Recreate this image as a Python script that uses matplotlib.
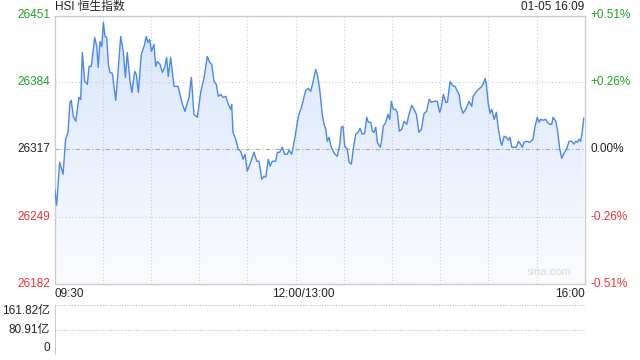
import numpy as np
import matplotlib
matplotlib.use("Agg")
import matplotlib.pyplot as plt
from matplotlib.colors import LinearSegmentedColormap

plt.rcParams['font.family'] = ['Liberation Sans', 'Noto Sans CJK SC', 'DejaVu Sans']

# minutos de negociacion desde las 09:30 (0..330) y valor del indice
minutos = [0, 1.2, 3.1, 5.2, 6.8, 8.3, 9.5, 10.3, 11.6, 13.1, 15.1, 16.2, 17.2, 18.7, 20.3,
           21.4, 22.8, 24.9, 26.2, 27.1, 28.2, 29.3, 30.3, 31.3, 32.4, 33.4, 34.4, 35.9,
           38.0, 39.4, 41.1, 42.7, 44.0, 45.2, 46.9, 48.1, 49.8, 50.8, 52.1, 53.9, 56.0,
           57.0, 58.1, 59.2, 60.2, 61.8, 62.9, 63.9, 65.6, 67.0, 68.5, 69.7, 70.7, 72.2,
           74.3, 76.8, 79.5, 81.1, 83.6, 85.1, 86.7, 88.8, 90.9, 93.0, 95.0, 96.5, 97.8,
           99.2, 100.6, 101.9, 103.4, 104.8, 106.5, 108.1, 109.6, 110.2, 111.0, 112.7,
           114.3, 115.8, 117.3, 118.5, 119.9, 122.0, 124.1, 125.8, 127.2, 128.9, 130.3,
           131.4, 133.0, 134.1, 135.5, 137.6, 138.6, 140.1, 141.7, 143.2, 144.8, 145.9,
           147.6, 149.6, 151.7, 153.8, 156.3, 157.9, 159.4, 160.8, 162.5, 163.5, 165.0,
           166.6, 167.7, 168.8, 169.7, 170.8, 172.2, 174.4, 176.0, 177.5, 178.5, 179.5,
           180.6, 182.2, 183.3, 184.7, 185.9, 187.4, 188.9, 190.1, 191.5, 193.0, 194.3,
           195.3, 196.8, 197.8, 198.8, 199.9, 200.9, 202.6, 203.4, 204.6, 206.1, 207.5,
           208.6, 209.6, 210.8, 212.3, 213.3, 214.6, 216.1, 217.5, 219.2, 220.6, 222.3,
           223.7, 225.2, 226.8, 228.3, 230.0, 231.6, 233.1, 234.5, 236.2, 238.2, 239.7,
           240.7, 242.0, 243.5, 244.5, 246.2, 247.6, 249.3, 250.7, 251.8, 252.8, 254.2,
           255.9, 258.0, 259.7, 260.5, 262.2, 263.8, 265.3, 266.7, 268.0, 268.8, 270.0,
           271.1, 272.1, 273.6, 275.0, 276.3, 277.7, 278.4, 279.8, 281.2, 282.5, 283.5,
           284.6, 286.0, 287.4, 288.7, 289.7, 291.2, 292.2, 293.9, 295.8, 297.8, 299.1,
           300.5, 301.6, 302.6, 304.1, 305.7, 306.7, 308.2, 309.5, 310.3, 312.0, 313.0,
           314.5, 315.7, 317.1, 318.6, 320.3, 321.9, 323.4, 324.4, 325.4, 326.5, 327.5,
           328.5, 329.4]
valores = [26277, 26261, 26304, 26292, 26327, 26334, 26364, 26366, 26350, 26345, 26369,
           26367, 26414, 26385, 26382, 26400, 26400, 26429, 26420, 26399, 26425, 26420,
           26444, 26430, 26429, 26402, 26394, 26393, 26366, 26394, 26430, 26415, 26389,
           26414, 26385, 26374, 26395, 26392, 26374, 26412, 26422, 26430, 26424, 26427,
           26415, 26422, 26400, 26405, 26402, 26394, 26399, 26409, 26390, 26409, 26380,
           26380, 26362, 26355, 26369, 26389, 26352, 26349, 26374, 26389, 26410, 26404,
           26402, 26385, 26382, 26370, 26372, 26369, 26370, 26362, 26357, 26362, 26334,
           26327, 26317, 26315, 26307, 26312, 26295, 26304, 26314, 26305, 26305, 26287,
           26290, 26289, 26307, 26300, 26305, 26305, 26314, 26314, 26319, 26312, 26312,
           26316, 26312, 26329, 26350, 26360, 26376, 26378, 26375, 26384, 26397, 26392,
           26377, 26352, 26342, 26337, 26325, 26329, 26319, 26312, 26310, 26322, 26339,
           26340, 26320, 26317, 26304, 26302, 26317, 26332, 26334, 26338, 26332, 26333,
           26349, 26344, 26344, 26335, 26334, 26339, 26324, 26319, 26324, 26340, 26344,
           26352, 26347, 26365, 26357, 26357, 26354, 26335, 26337, 26345, 26342, 26352,
           26361, 26357, 26352, 26334, 26337, 26353, 26355, 26367, 26364, 26365, 26365,
           26354, 26359, 26372, 26364, 26364, 26385, 26381, 26380, 26375, 26372, 26360,
           26353, 26357, 26365, 26360, 26370, 26374, 26377, 26379, 26382, 26388, 26382,
           26362, 26353, 26357, 26347, 26354, 26337, 26324, 26321, 26330, 26329, 26326,
           26329, 26319, 26319, 26319, 26325, 26323, 26319, 26324, 26325, 26324, 26327,
           26340, 26349, 26344, 26347, 26346, 26347, 26344, 26342, 26342, 26349, 26345,
           26337, 26317, 26308, 26313, 26317, 26325, 26325, 26322, 26325, 26324, 26327,
           26325, 26335, 26348]

cierre_previo = 26317
ticks_izq = [26451, 26384, 26317, 26249, 26182]
ticks_der = ['+0.51%', '+0.26%', '0.00%', '-0.26%', '-0.51%']
vol_ticks = [161.82, 80.91, 0]
vol_labels = ['161.82亿', '80.91亿', '0']
etiquetas_x = ['09:30', '12:00/13:00', '16:00']

verde = '#1ea51e'
rojo = '#f03232'
gris = '#cccccc'

fig = plt.figure(figsize=(6.4, 3.6), dpi=100)
ax = fig.add_axes([54.7/640, 1-284/360, 530/640, (284-15.5)/360])
ax.set_xlim(0, 330)
ax.set_ylim(26182, 26451)

# relleno con degradado
grad = LinearSegmentedColormap.from_list('g', ['#fbfcff', '#d7e5fb'])
img = ax.imshow(np.linspace(0, 1, 256).reshape(-1, 1), cmap=grad, aspect='auto',
                extent=[0, 330, 26182, 26451], origin='lower', zorder=1)
poly = ax.fill_between(minutos, valores, 26182, color='none', zorder=1)
img.set_clip_path(poly.get_paths()[0], transform=ax.transData)
ax.plot(minutos, valores, color='#4a88ee', lw=1.0, zorder=3)

# rejilla
for t in range(30, 330, 30):
    ax.axvline(t, color=gris, lw=0.8, ls=(0, (1, 2)), zorder=2)
for v in [26384, 26249]:
    ax.axhline(v, color=gris, lw=0.8, ls=(0, (1, 2)), zorder=2)
ax.axhline(cierre_previo, color='#aaaaaa', lw=0.8, ls=(0, (4, 2, 1, 2)), zorder=2)

for s in ax.spines.values():
    s.set_color(gris)
    s.set_linewidth(1)
ax.set_xticks([])
ax.set_yticks([])

colores = [verde, verde, '#222222', rojo, rojo]
tr = ax.get_yaxis_transform()
for v, lab, c in zip(ticks_izq, ticks_der, colores):
    ax.text(-4.7/530, v, str(v), transform=tr, ha='right', va='center', fontsize=8.5, color=c)
    ax.text(1 + 5.8/530, v, lab, transform=tr, ha='left', va='center', fontsize=8.5, color=c)

xtr = ax.get_xaxis_transform()
ax.text(0, -10/268.5, etiquetas_x[0], transform=xtr, ha='left', va='center', fontsize=8.5, color='#222222')
ax.text(155, -10/268.5, etiquetas_x[1], transform=xtr, ha='center', va='center', fontsize=8.5, color='#222222')
ax.text(330, -10/268.5, etiquetas_x[2], transform=xtr, ha='right', va='center', fontsize=8.5, color='#222222')

ax.text(0, 1 + 8.5/268.5, 'HSI 恒生指数', transform=ax.transAxes, ha='left', va='center',
        fontsize=8.5, color='#222222')
ax.text(1, 1 + 8.5/268.5, '01-05 16:09', transform=ax.transAxes, ha='right', va='center',
        fontsize=8.5, color='#222222')
ax.text(0.975, 0.025, 'sina.com', transform=ax.transAxes, ha='right', va='bottom',
        fontsize=8, color='#d8d8d8')

# panel de volumen
axv = fig.add_axes([54.7/640, 1-354/360, 530/640, (354-305)/360])
axv.set_xlim(0, 330)
axv.set_ylim(0, 161.82)
for s in ['top', 'right', 'bottom']:
    axv.spines[s].set_visible(False)
axv.spines['left'].set_color(gris)
for v in vol_ticks:
    axv.axhline(v, color='#bbbbbb', lw=0.8, ls=(0, (1, 1.5)))
axv.set_xticks([])
axv.set_yticks([])
vtr = axv.get_yaxis_transform()
for v, lab, va in zip(vol_ticks, vol_labels, ['top', 'center', 'bottom']):
    axv.text(-4.7/530, v, lab, transform=vtr, ha='right', va=va, fontsize=8.5, color='#222222')

fig.savefig('out.png', dpi=100)
